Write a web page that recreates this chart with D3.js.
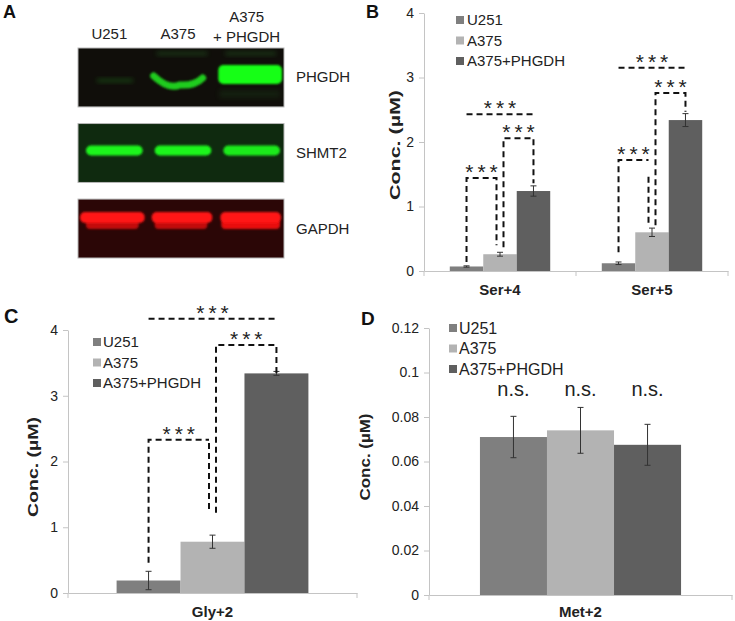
<!DOCTYPE html>
<html>
<head>
<meta charset="utf-8">
<script src="https://cdnjs.cloudflare.com/ajax/libs/d3/7.8.5/d3.min.js"></script>
<style>
  body { margin: 0; background: #fff; }
  svg { display: block; font-family: "Liberation Sans", Arial, sans-serif; }
</style>
</head>
<body>
<div id="figure"></div>
<script>
// ---------- data ----------
var seriesNames = ["U251", "A375", "A375+PHGDH"];
var seriesColors = ["#7f7f7f", "#b3b3b3", "#5f5f5f"];

// western blot (panel A), relative band signal per lane
var blotLanes = ["U251", "A375", "A375 + PHGDH"];
var blotProteins = ["PHGDH", "SHMT2", "GAPDH"];
var phgdhSignal = [0.3, 0.85, 1];
var shmt2Signal = [1, 1, 0.95];
var gapdhSignal = [1, 1, 1];

// panel B
var serCategories = ["Ser+4", "Ser+5"];
var serU251 = [0.07, 0.12];
var serA375 = [0.26, 0.60];
var serPHGDH = [1.24, 2.34];
var serErrU251 = [0.01, 0.02];
var serErrA375 = [0.03, 0.065];
var serErrPHGDH = [0.08, 0.10];
var serTicks = [0, 1, 2, 3, 4];
var serBrackets = [
    {cat: "Ser+4", a: 0, b: 1, top: 1.44, aLow: 0.14, bLow: 0.40},
    {cat: "Ser+4", a: 1, b: 2, top: 2.06, aLow: 0.37, bLow: 1.36},
    {cat: "Ser+4", a: 0, b: 2, top: 2.43},
    {cat: "Ser+5", a: 0, b: 1, top: 1.72, aLow: 0.29, bLow: 0.74, bHigh: 1.46},
    {cat: "Ser+5", a: 1, b: 2, top: 2.76, aLow: 0.71, bLow: 2.47},
    {cat: "Ser+5", a: 0, b: 2, top: 3.15}
];

// panel C
var glyCategories = ["Gly+2"];
var glyMeans = [0.19, 0.78, 3.34];
var glyErr = [0.14, 0.10, 0.03];
var glyTicks = [0, 1, 2, 3, 4];
var glyBrackets = [
    {cat: "Gly+2", a: 0, b: 1, top: 2.33, aLow: 0.46, bLow: 1.22, bHigh: 2.28},
    {cat: "Gly+2", a: 1, b: 2, top: 3.77, aLow: 1.22, bLow: 3.30},
    {cat: "Gly+2", a: 0, b: 2, top: 4.17}
];

// panel D
var metCategories = ["Met+2"];
var metMeans = [0.071, 0.074, 0.0675];
var metErr = [0.0093, 0.0103, 0.0092];
var metTicks = [0, 0.02, 0.04, 0.06, 0.08, 0.1, 0.12];
var metLabels = ["n.s.", "n.s.", "n.s."];

var axisColor = "#c4c4c4";
var textColor = "#222";

var svg = d3.select("#figure").append("svg")
    .attr("width", 735)
    .attr("height", 621);

var defs = svg.append("defs");
defs.append("filter").attr("id", "soft").attr("x", "-20%").attr("y", "-60%").attr("width", "140%").attr("height", "220%")
    .append("feGaussianBlur").attr("stdDeviation", 1.3);
defs.append("filter").attr("id", "haze").attr("x", "-30%").attr("y", "-100%").attr("width", "160%").attr("height", "300%")
    .append("feGaussianBlur").attr("stdDeviation", 2.5);

// panel letters
function panelLetter(txt, x, y, size) {
    svg.append("text").attr("x", x).attr("y", y)
        .style("font-weight", "bold").style("font-size", size + "px")
        .attr("fill", "#111").text(txt);
}

// ---------- panel A : western blot ----------
var blotX = d3.scaleBand().domain(blotLanes).range([78, 284]);
var blotY = d3.scaleBand().domain(blotProteins).range([48, 258]).paddingInner(0.22);
var blotBg = {PHGDH: "#100e0a", SHMT2: "#0f2a0f", GAPDH: "#2b0606"};

var blot = svg.append("g");

blot.selectAll("rect.frame")
    .data(blotProteins)
    .enter().append("rect")
    .attr("class", "frame")
    .attr("x", blotX.range()[0])
    .attr("y", function(d) { return blotY(d); })
    .attr("width", blotX.range()[1] - blotX.range()[0])
    .attr("height", blotY.bandwidth())
    .attr("fill", function(d) { return blotBg[d]; })
    .attr("stroke", "#b8b8b8")
    .attr("stroke-width", 1);

// PHGDH bands
var pTop = blotY("PHGDH");
var bw = blotX.bandwidth();
// faint upper bands
blot.selectAll("rect.faint")
    .data([1, 2])
    .enter().append("rect")
    .attr("x", function(i) { return blotX(blotLanes[i]) + 10; })
    .attr("y", pTop + 4)
    .attr("width", bw - 18)
    .attr("height", 3)
    .attr("fill", "#2f8a2f")
    .attr("opacity", 0.4)
    .attr("filter", "url(#haze)");
// U251 faint band
blot.append("rect")
    .attr("x", blotX(blotLanes[0]) + 19).attr("y", pTop + 31)
    .attr("width", 36).attr("height", 3)
    .attr("fill", "#2fd02f").attr("opacity", phgdhSignal[0])
    .attr("filter", "url(#haze)");
// A375 curved band
var a375x = blotX(blotLanes[1]);
blot.append("path")
    .attr("d", "M" + (a375x + 7) + "," + (pTop + 28) +
        " Q" + (a375x + 22) + "," + (pTop + 42) + " " + (a375x + 33) + "," + (pTop + 37) +
        " Q" + (a375x + 48) + "," + (pTop + 38) + " " + (a375x + 56) + "," + (pTop + 30))
    .attr("fill", "none")
    .attr("stroke", "#22ee22")
    .attr("stroke-width", 7)
    .attr("stroke-linecap", "round")
    .attr("opacity", phgdhSignal[1])
    .attr("filter", "url(#soft)");
// A375+PHGDH strong band
var ovx = blotX(blotLanes[2]);
blot.append("rect")
    .attr("x", ovx + 4).attr("y", pTop + 42)
    .attr("width", bw - 8).attr("height", 8)
    .attr("fill", "#1c4a1c").attr("opacity", 0.3)
    .attr("filter", "url(#haze)");
blot.append("rect")
    .attr("x", ovx + 3).attr("y", pTop + 17)
    .attr("width", bw - 5).attr("height", 19)
    .attr("rx", 5)
    .attr("fill", "#19ff19").attr("opacity", phgdhSignal[2])
    .attr("filter", "url(#soft)");

// SHMT2 bands
var sTop = blotY("SHMT2");
blot.selectAll("rect.shmt2")
    .data(shmt2Signal)
    .enter().append("rect")
    .attr("class", "shmt2")
    .attr("x", function(d, i) { return blotX(blotLanes[i]) + 8; })
    .attr("y", sTop + 22)
    .attr("width", bw - 12)
    .attr("height", 10)
    .attr("rx", 5)
    .attr("fill", "#1ff51f")
    .attr("opacity", function(d) { return d; })
    .attr("filter", "url(#soft)");

// GAPDH bands
var gTop = blotY("GAPDH");
blot.selectAll("rect.gapdhlow")
    .data(gapdhSignal)
    .enter().append("rect")
    .attr("class", "gapdhlow")
    .attr("x", function(d, i) { return blotX(blotLanes[i]) + (i === 2 ? 6 : 8); })
    .attr("y", gTop + 20)
    .attr("width", function(d, i) { return bw - (i === 2 ? 10 : 16); })
    .attr("height", 10)
    .attr("rx", 4)
    .attr("fill", "#e81010")
    .attr("opacity", function(d, i) { return i === 2 ? d : 0.8 * d; })
    .attr("filter", "url(#soft)");
blot.selectAll("rect.gapdh")
    .data(gapdhSignal)
    .enter().append("rect")
    .attr("class", "gapdh")
    .attr("x", function(d, i) { return blotX(blotLanes[i]) + (i === 0 ? 2 : 5); })
    .attr("y", gTop + 13)
    .attr("width", function(d, i) { return bw - (i === 0 ? 4 : 8); })
    .attr("height", 11)
    .attr("rx", 5)
    .attr("fill", "#ff1616")
    .attr("opacity", function(d) { return d; })
    .attr("filter", "url(#soft)");

// lane labels
var laneText = svg.append("g").attr("fill", textColor).style("font-size", "15px").attr("text-anchor", "middle");
blotLanes.forEach(function(d, i) {
    var cx = blotX(d) + bw / 2 - 3;
    var parts = d.indexOf("+") > 0 ? [d.split(" + ")[0], "+ " + d.split(" + ")[1]] : [d];
    if (parts.length === 1) {
        laneText.append("text").attr("x", cx).attr("y", 39).text(parts[0]);
    } else {
        laneText.append("text").attr("x", cx).attr("y", 22).text(parts[0]);
        laneText.append("text").attr("x", cx).attr("y", 42).text(parts[1]);
    }
});

// protein labels
svg.append("g").selectAll("text")
    .data(blotProteins)
    .enter().append("text")
    .attr("x", 296)
    .attr("y", function(d) { return blotY(d) + blotY.bandwidth() / 2 + 5; })
    .attr("fill", textColor)
    .style("font-size", "15px")
    .text(function(d) { return d; });

panelLetter("A", 3, 18, 18);

// ---------- bar panels ----------
var barPanel = function(opts) {
    var g = svg.append("g");

    var x = d3.scaleBand().domain(opts.categories).range([opts.left, opts.right]);
    var xs = d3.scaleBand().domain(d3.range(seriesNames.length))
        .range([0, x.bandwidth()])
        .paddingInner(0)
        .paddingOuter(opts.outer);
    var y = d3.scaleLinear().domain([0, opts.yMax]).range([opts.bottom, opts.top]);

    var barCenter = function(cat, s) {
        return x(cat) + xs(s) + xs.bandwidth() / 2;
    };

    // y axis
    var ya = g.append("g")
        .attr("transform", "translate(" + opts.left + ",0)")
        .call(d3.axisLeft(y).tickValues(opts.ticks).tickSize(5).tickSizeOuter(0).tickPadding(5).tickFormat(opts.fmt));
    ya.select(".domain").attr("stroke", axisColor);
    ya.selectAll(".tick line").attr("stroke", axisColor);
    ya.selectAll(".tick text").attr("fill", textColor)
        .style("font-size", "14px").style("font-family", "'Liberation Sans', Arial, sans-serif");

    // x axis
    var xa = g.append("g")
        .attr("transform", "translate(0," + opts.bottom + ")")
        .call(d3.axisBottom(x).tickSize(0).tickSizeOuter(0).tickPadding(opts.labelPad));
    xa.select(".domain").attr("stroke", axisColor);
    xa.selectAll(".tick text").attr("fill", textColor)
        .style("font-size", "15px").style("font-weight", "bold")
        .style("font-family", "'Liberation Sans', Arial, sans-serif");
    // category boundary ticks
    var bounds = opts.categories.map(function(c) { return x(c); }).concat([x.range()[1]]);
    g.selectAll("line.bound")
        .data(bounds)
        .enter().append("line")
        .attr("x1", function(d) { return d; }).attr("x2", function(d) { return d; })
        .attr("y1", opts.bottom).attr("y2", opts.bottom + 5)
        .attr("stroke", axisColor);

    // y label
    g.append("text")
        .attr("transform", "translate(" + opts.yLabel[0] + "," + opts.yLabel[1] + ") rotate(-90)")
        .attr("text-anchor", "middle")
        .attr("dy", "0.35em")
        .attr("fill", textColor)
        .style("font-size", "15px")
        .style("font-weight", "bold")
        .attr("textLength", opts.yLabel[2])
        .attr("lengthAdjust", "spacingAndGlyphs")
        .text("Conc. (\u00b5M)");

    // bars
    var rows = [];
    opts.categories.forEach(function(c, ci) {
        seriesNames.forEach(function(s, si) {
            rows.push({cat: c, s: si, v: opts.values[si][ci], e: opts.errors[si][ci]});
        });
    });

    g.selectAll("rect.bar")
        .data(rows)
        .enter().append("rect")
        .attr("class", "bar")
        .attr("x", function(d) { return x(d.cat) + xs(d.s); })
        .attr("y", function(d) { return y(d.v); })
        .attr("width", xs.bandwidth())
        .attr("height", function(d) { return opts.bottom - y(d.v); })
        .attr("fill", function(d) { return seriesColors[d.s]; });

    // error bars
    var eb = g.selectAll("g.err")
        .data(rows)
        .enter().append("g")
        .attr("stroke", "#333")
        .attr("stroke-width", 1);
    eb.append("line")
        .attr("x1", function(d) { return barCenter(d.cat, d.s); })
        .attr("x2", function(d) { return barCenter(d.cat, d.s); })
        .attr("y1", function(d) { return y(d.v + d.e); })
        .attr("y2", function(d) { return y(d.v - d.e); });
    [1, -1].forEach(function(sign) {
        eb.append("line")
            .attr("x1", function(d) { return barCenter(d.cat, d.s) - 3; })
            .attr("x2", function(d) { return barCenter(d.cat, d.s) + 3; })
            .attr("y1", function(d) { return y(d.v + sign * d.e); })
            .attr("y2", function(d) { return y(d.v + sign * d.e); });
    });

    // legend
    var lg = g.append("g").style("font-size", opts.legend[3] + "px");
    seriesNames.forEach(function(s, i) {
        var ry = opts.legend[2] + i * 20.5;
        lg.append("rect")
            .attr("x", opts.legend[0]).attr("y", ry - 4)
            .attr("width", 8).attr("height", 8)
            .attr("fill", seriesColors[i]);
        lg.append("text")
            .attr("x", opts.legend[1]).attr("y", ry)
            .attr("dy", "0.36em")
            .attr("fill", textColor)
            .text(s);
    });

    // significance brackets
    var legX = function(cat, s, side) {
        var shift = s === 1 ? (side === "right" ? -3.5 : 3.5) : 0;
        return barCenter(cat, s) + shift;
    };
    var bk = g.append("g");
    (opts.brackets || []).forEach(function(b) {
        var xa0 = legX(b.cat, b.a, "left");
        var xb0 = legX(b.cat, b.b, "right");
        var dash = function(sel) {
            return sel.attr("fill", "none").attr("stroke", "#111")
                .attr("stroke-width", 2).attr("stroke-dasharray", "6,4");
        };
        if (b.aLow === undefined) {
            dash(bk.append("line")
                .attr("x1", xa0).attr("x2", xb0)
                .attr("y1", y(b.top)).attr("y2", y(b.top)));
        } else {
            var p = d3.path();
            p.moveTo(xa0, y(b.aLow));
            p.lineTo(xa0, y(b.top));
            p.lineTo(xb0, y(b.top));
            if (b.bHigh === undefined) {
                p.lineTo(xb0, y(b.bLow));
            } else {
                p.moveTo(xb0, y(b.bHigh));
                p.lineTo(xb0, y(b.bLow));
            }
            dash(bk.append("path").attr("d", p.toString()));
        }
        bk.append("text")
            .attr("x", (xa0 + xb0) / 2 + 2)
            .attr("y", y(b.top) + 1)
            .attr("text-anchor", "middle")
            .attr("fill", "#222")
            .style("font-size", "21px")
            .style("letter-spacing", "4px")
            .text("***");
    });

    // text labels above bars (n.s.)
    if (opts.labels) {
        g.selectAll("text.ns")
            .data(opts.labels)
            .enter().append("text")
            .attr("x", function(d, i) { return barCenter(opts.categories[0], i); })
            .attr("y", y(opts.labelAt))
            .attr("text-anchor", "middle")
            .attr("fill", "#222")
            .style("font-size", "20px")
            .text(function(d) { return d; });
    }
};

barPanel({
    categories: serCategories,
    values: [serU251, serA375, serPHGDH],
    errors: [serErrU251, serErrA375, serErrPHGDH],
    left: 424, right: 728, bottom: 271, top: 13,
    yMax: 4, ticks: serTicks, fmt: d3.format("d"),
    outer: 0.77, labelPad: 13,
    yLabel: [395, 145, 110],
    legend: [456, 467, 20, 15],
    brackets: serBrackets
});

barPanel({
    categories: glyCategories,
    values: [[glyMeans[0]], [glyMeans[1]], [glyMeans[2]]],
    errors: [[glyErr[0]], [glyErr[1]], [glyErr[2]]],
    left: 68, right: 357, bottom: 593, top: 330,
    yMax: 4, ticks: glyTicks, fmt: d3.format("d"),
    outer: 0.76, labelPad: 13,
    yLabel: [33, 467, 100],
    legend: [93, 103, 342, 15],
    brackets: glyBrackets
});

barPanel({
    categories: metCategories,
    values: [[metMeans[0]], [metMeans[1]], [metMeans[2]]],
    errors: [[metErr[0]], [metErr[1]], [metErr[2]]],
    left: 429, right: 732, bottom: 595, top: 328,
    yMax: 0.12, ticks: metTicks,
    fmt: function(d) { return d === 0 ? "0" : String(+d.toFixed(2)); },
    outer: 0.76, labelPad: 11,
    yLabel: [365, 457, 87],
    legend: [449, 459, 328, 16],
    labels: metLabels,
    labelAt: 0.0893
});

panelLetter("B", 366, 18, 18);
panelLetter("C", 4, 323, 20);
panelLetter("D", 361, 325, 19);
</script>
</body>
</html>
